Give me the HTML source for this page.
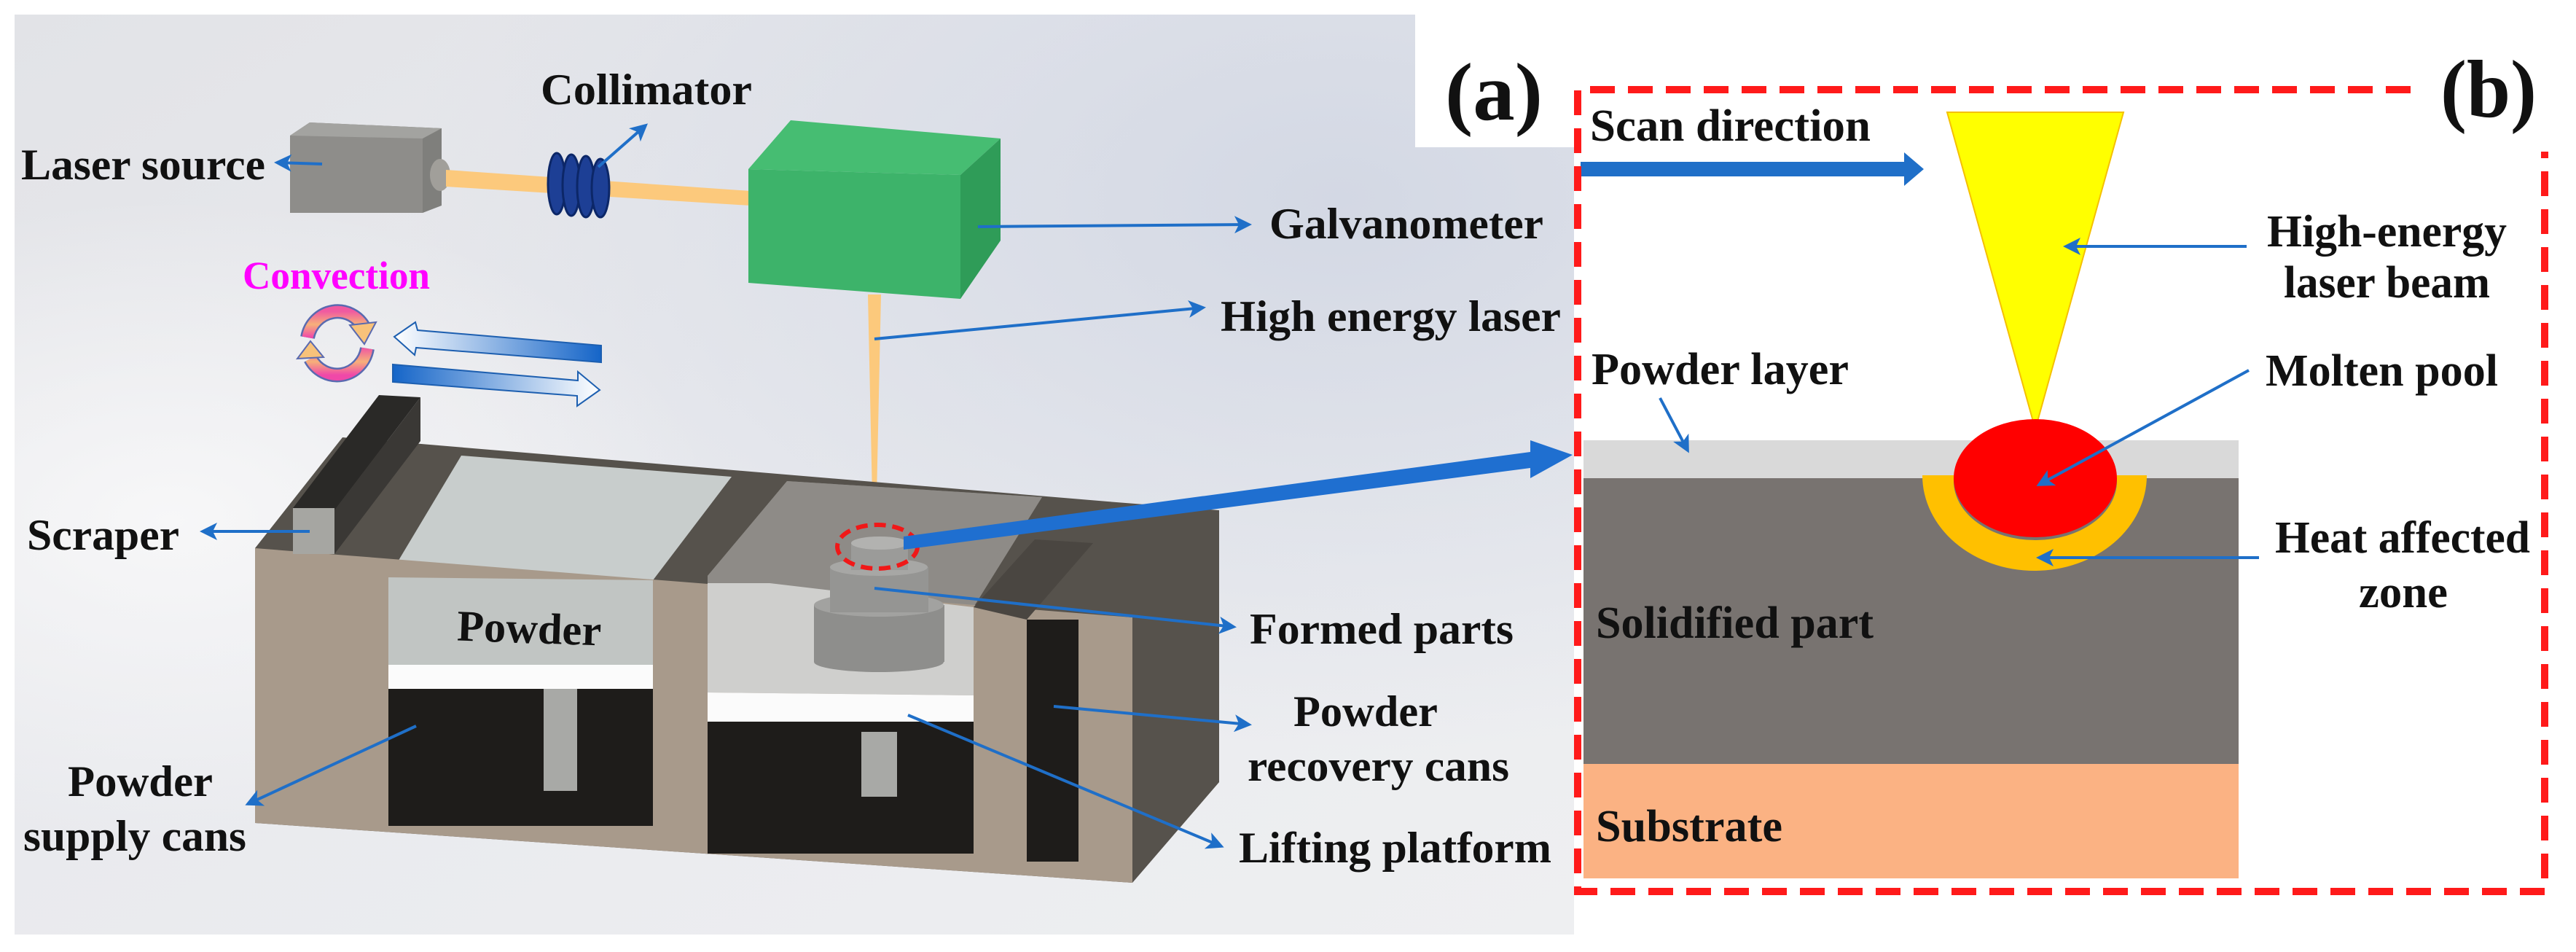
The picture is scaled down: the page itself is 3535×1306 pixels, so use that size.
<!DOCTYPE html>
<html><head><meta charset="utf-8"><style>
html,body{margin:0;padding:0;background:#fff}
svg{display:block}
text{font-family:"Liberation Serif",serif;font-weight:bold;fill:#111}
</style></head><body>
<svg width="3535" height="1306" viewBox="0 0 3535 1306" xmlns="http://www.w3.org/2000/svg">
<defs>
<linearGradient id="bg" x1="0" y1="0" x2="1" y2="1">
<stop offset="0" stop-color="#e2e3e7"/><stop offset="0.45" stop-color="#e9eaee"/><stop offset="1" stop-color="#eeeff1"/>
</linearGradient>
<radialGradient id="bg2" cx="0.85" cy="0.2" r="0.6">
<stop offset="0" stop-color="#d3d8e4"/><stop offset="1" stop-color="#d3d8e4" stop-opacity="0"/>
</radialGradient>
<radialGradient id="bg3" cx="0.1" cy="0.55" r="0.35">
<stop offset="0" stop-color="#f7f7f8"/><stop offset="1" stop-color="#f7f7f8" stop-opacity="0"/>
</radialGradient>
<linearGradient id="arL" x1="0" y1="0" x2="1" y2="0">
<stop offset="0" stop-color="#ffffff"/><stop offset="1" stop-color="#1565c8"/>
</linearGradient>
<linearGradient id="arR" x1="0" y1="0" x2="1" y2="0">
<stop offset="0" stop-color="#1565c8"/><stop offset="1" stop-color="#ffffff"/>
</linearGradient>
<linearGradient id="pk" x1="0" y1="0" x2="0" y2="1">
<stop offset="0" stop-color="#f05aa0"/><stop offset="0.5" stop-color="#f6b07a"/><stop offset="1" stop-color="#f048a8"/>
</linearGradient>
<marker id="ah" markerWidth="6" markerHeight="6" refX="5" refY="3" orient="auto" markerUnits="strokeWidth">
<path d="M0,0 L6,3 L0,6 L1.5,3 z" fill="#1f6fc8"/>
</marker>
</defs>

<rect x="20" y="20" width="2140" height="1262" fill="url(#bg)"/>
<rect x="20" y="20" width="2140" height="1262" fill="url(#bg2)"/>
<rect x="20" y="20" width="2140" height="1262" fill="url(#bg3)"/>
<rect x="1942" y="0" width="218" height="202" fill="#fff"/>

<!-- laser source -->
<polygon points="398,186 425,168 606,176 606,282 580,292 398,292" fill="#7f7f7c"/>
<rect x="398" y="186" width="182" height="106" fill="#8e8d8a"/>
<polygon points="398,186 425,168 606,176 580,190" fill="#a3a3a0"/>
<ellipse cx="604" cy="240" rx="14" ry="22" fill="#a19f9a"/>
<polygon points="612,233 1030,262 1030,282 612,256" fill="#fcc97c"/>
<g fill="#1d3f95" stroke="#0c2768" stroke-width="3">
<ellipse cx="764" cy="252" rx="12" ry="42"/>
<ellipse cx="784" cy="254" rx="12" ry="42"/>
<ellipse cx="804" cy="256" rx="12" ry="42"/>
<ellipse cx="824" cy="258" rx="12" ry="40"/>
</g>
<!-- galvanometer -->
<polygon points="1027,232 1085,165 1373,190 1318,240" fill="#46bd72"/>
<polygon points="1318,240 1373,190 1373,330 1318,410" fill="#2f9c58"/>
<polygon points="1027,232 1318,240 1318,410 1027,388" fill="#3db36a"/>

<polygon points="1191,404 1209,404 1202,728 1198,728" fill="#fcc97c"/>

<!-- convection -->
<g fill="none" stroke="#5a6ab0" stroke-width="20">
<path d="M422,463 A42,44 0 0 1 500,450"/>
<path d="M504,478 A42,44 0 0 1 426,492"/>
</g>
<g fill="none" stroke="url(#pk)" stroke-width="15">
<path d="M422,463 A42,44 0 0 1 500,450"/>
<path d="M504,478 A42,44 0 0 1 426,492"/>
</g>
<polygon points="480,446 516,442 500,472" fill="#f8c27a" stroke="#5a6ab0" stroke-width="2"/>
<polygon points="408,492 444,490 426,468" fill="#f8c27a" stroke="#5a6ab0" stroke-width="2"/>
<polygon points="541,462 570,442 573,453 825,474 825,497 571,477 569,487" fill="url(#arL)" stroke="#1d5fb0" stroke-width="2"/>
<polygon points="539,500 793,522 793,510 823,535 792,557 792,543 539,524" fill="url(#arR)" stroke="#1d5fb0" stroke-width="2"/>

<!-- machine -->
<polygon points="350,752 470,600 1520,688 1673,700 1673,1073 1554,1211 350,1129" fill="#56524c"/>
<polygon points="971,790 1080,660 1430,682 1336,833 1336,954 971,950" fill="#8e8b87"/>
<polygon points="533,792 633,625 1004,654 896,796" fill="#c8cdcc"/>
<polygon points="350,752 1554,847 1554,1211 350,1129" fill="#a89a8b"/>
<polygon points="533,792 896,796 896,912 533,912" fill="#c1c5c3"/>
<rect x="533" y="912" width="363" height="33" fill="#fbfbfb"/>
<rect x="533" y="945" width="363" height="188" fill="#1e1c1a"/>
<rect x="746" y="945" width="46" height="140" fill="#a8a9a6"/>
<polygon points="971,790 1336,833 1336,954 971,950" fill="#cfcfcd"/>
<polygon points="971,790 1080,660 1430,682 1336,800 971,800" fill="#8e8b87"/>
<polygon points="971,950 1336,954 1336,1004 971,990" fill="#fbfbfb"/>
<rect x="971" y="990" width="365" height="181" fill="#1e1c1a"/>
<rect x="1182" y="1004" width="49" height="89" fill="#a8a9a6"/>
<rect x="1409" y="850" width="71" height="332" fill="#1e1c1a"/>
<polygon points="1336,833 1420,740 1500,745 1409,850" fill="#4a4641"/>
<!-- formed parts -->
<rect x="1117" y="830" width="179" height="78" fill="#8e8e8c"/>
<ellipse cx="1206" cy="908" rx="89" ry="14" fill="#8e8e8c"/>
<ellipse cx="1206" cy="830" rx="89" ry="16" fill="#a2a2a0"/>
<rect x="1139" y="778" width="135" height="62" fill="#959593"/>
<ellipse cx="1206" cy="778" rx="67" ry="12" fill="#a7a7a5"/>
<rect x="1168" y="745" width="78" height="37" fill="#9b9b99"/>
<ellipse cx="1207" cy="745" rx="39" ry="9" fill="#b2b2b0"/>
<ellipse cx="1204" cy="750" rx="55" ry="30" fill="none" stroke="#f01818" stroke-width="6" stroke-dasharray="16 9"/>
<!-- scraper -->
<polygon points="402,697 520,542 577,545 459,700" fill="#2a2927"/>
<polygon points="577,545 577,605 459,760 459,700" fill="#3a3835"/>
<rect x="402" y="697" width="57" height="63" fill="#a6a6a2"/>

<polygon points="1240,736 2100,620 2100,604 2158,624 2100,656 2100,642 1240,754" fill="#1f6fd0"/>

<g font-size="60">
<text x="742" y="143" textLength="290" lengthAdjust="spacingAndGlyphs">Collimator</text>
<text x="29" y="246" textLength="335" lengthAdjust="spacingAndGlyphs">Laser source</text>
<text x="1742" y="327" textLength="376" lengthAdjust="spacingAndGlyphs">Galvanometer</text>
<text x="1675" y="454" textLength="467" lengthAdjust="spacingAndGlyphs">High energy laser</text>
<text x="37" y="754" textLength="209" lengthAdjust="spacingAndGlyphs">Scraper</text>
<text x="627" y="882" textLength="198" lengthAdjust="spacingAndGlyphs" transform="rotate(2 726 870)">Powder</text>
<text x="93" y="1092" textLength="199" lengthAdjust="spacingAndGlyphs">Powder</text>
<text x="32" y="1167" textLength="306" lengthAdjust="spacingAndGlyphs">supply cans</text>
<text x="1715" y="883" textLength="362" lengthAdjust="spacingAndGlyphs">Formed parts</text>
<text x="1775" y="996" textLength="198" lengthAdjust="spacingAndGlyphs">Powder</text>
<text x="1712" y="1071" textLength="359" lengthAdjust="spacingAndGlyphs">recovery cans</text>
<text x="1700" y="1183" textLength="429" lengthAdjust="spacingAndGlyphs">Lifting platform</text>
</g>
<text x="333" y="396" font-size="54" style="fill:#ff00ff" textLength="257" lengthAdjust="spacingAndGlyphs">Convection</text>
<text x="1983" y="164" font-size="112" textLength="134" lengthAdjust="spacingAndGlyphs">(a)</text>

<g stroke="#1f6fc8" stroke-width="4" fill="none" marker-end="url(#ah)">
<line x1="442" y1="225" x2="380" y2="223"/>
<line x1="821" y1="229" x2="886" y2="172"/>
<line x1="1342" y1="311" x2="1714" y2="308"/>
<line x1="1200" y1="465" x2="1651" y2="422"/>
<line x1="425" y1="729" x2="278" y2="729"/>
<line x1="571" y1="996" x2="340" y2="1103"/>
<line x1="1200" y1="807" x2="1693" y2="860"/>
<line x1="1446" y1="969" x2="1714" y2="994"/>
<line x1="1246" y1="981" x2="1676" y2="1161"/>
</g>

<!-- panel b -->
<rect x="2173" y="604" width="899" height="52" fill="#d9d9d9"/>
<rect x="2173" y="656" width="899" height="392" fill="#787370"/>
<rect x="2173" y="1048" width="899" height="157" fill="#fbb283"/>
<polygon points="2672,154 2914,154 2796,578 2790,578" fill="#ffff00" stroke="#f5c000" stroke-width="2"/>
<path d="M2638,652 A154,131 0 0 0 2946,652 L2905,652 L2905,660 A112,81 0 0 1 2681,660 L2681,652 Z" fill="#ffc000"/>
<ellipse cx="2793" cy="656" rx="112" ry="81" fill="#ff0000"/>
<polygon points="2169,222 2613,222 2613,209 2640,232 2613,255 2613,242 2169,242" fill="#1f6fc8"/>
<path d="M3308,123 L2165,123 L2165,1223 L3492,1223 L3492,208" fill="none" stroke="#ff1a1a" stroke-width="10" stroke-dasharray="34 18"/>

<g font-size="62">
<text x="2182" y="193" textLength="385" lengthAdjust="spacingAndGlyphs">Scan direction</text>
<text x="2184" y="527" textLength="353" lengthAdjust="spacingAndGlyphs">Powder layer</text>
<text x="2190" y="875" textLength="381" lengthAdjust="spacingAndGlyphs">Solidified part</text>
<text x="2190" y="1154" textLength="256" lengthAdjust="spacingAndGlyphs">Substrate</text>
<text x="3111" y="338" textLength="329" lengthAdjust="spacingAndGlyphs">High-energy</text>
<text x="3134" y="408" textLength="283" lengthAdjust="spacingAndGlyphs">laser beam</text>
<text x="3109" y="529" textLength="319" lengthAdjust="spacingAndGlyphs">Molten pool</text>
<text x="3122" y="758" textLength="350" lengthAdjust="spacingAndGlyphs">Heat affected</text>
<text x="3237" y="833" textLength="122" lengthAdjust="spacingAndGlyphs">zone</text>
</g>
<text x="3349" y="160" font-size="112" textLength="132" lengthAdjust="spacingAndGlyphs">(b)</text>
<g stroke="#1f6fc8" stroke-width="4" fill="none" marker-end="url(#ah)">
<line x1="3083" y1="338" x2="2835" y2="338"/>
<line x1="3086" y1="508" x2="2798" y2="665"/>
<line x1="3100" y1="765" x2="2798" y2="765"/>
<line x1="2278" y1="546" x2="2316" y2="618"/>
</g>
</svg>
</body></html>
